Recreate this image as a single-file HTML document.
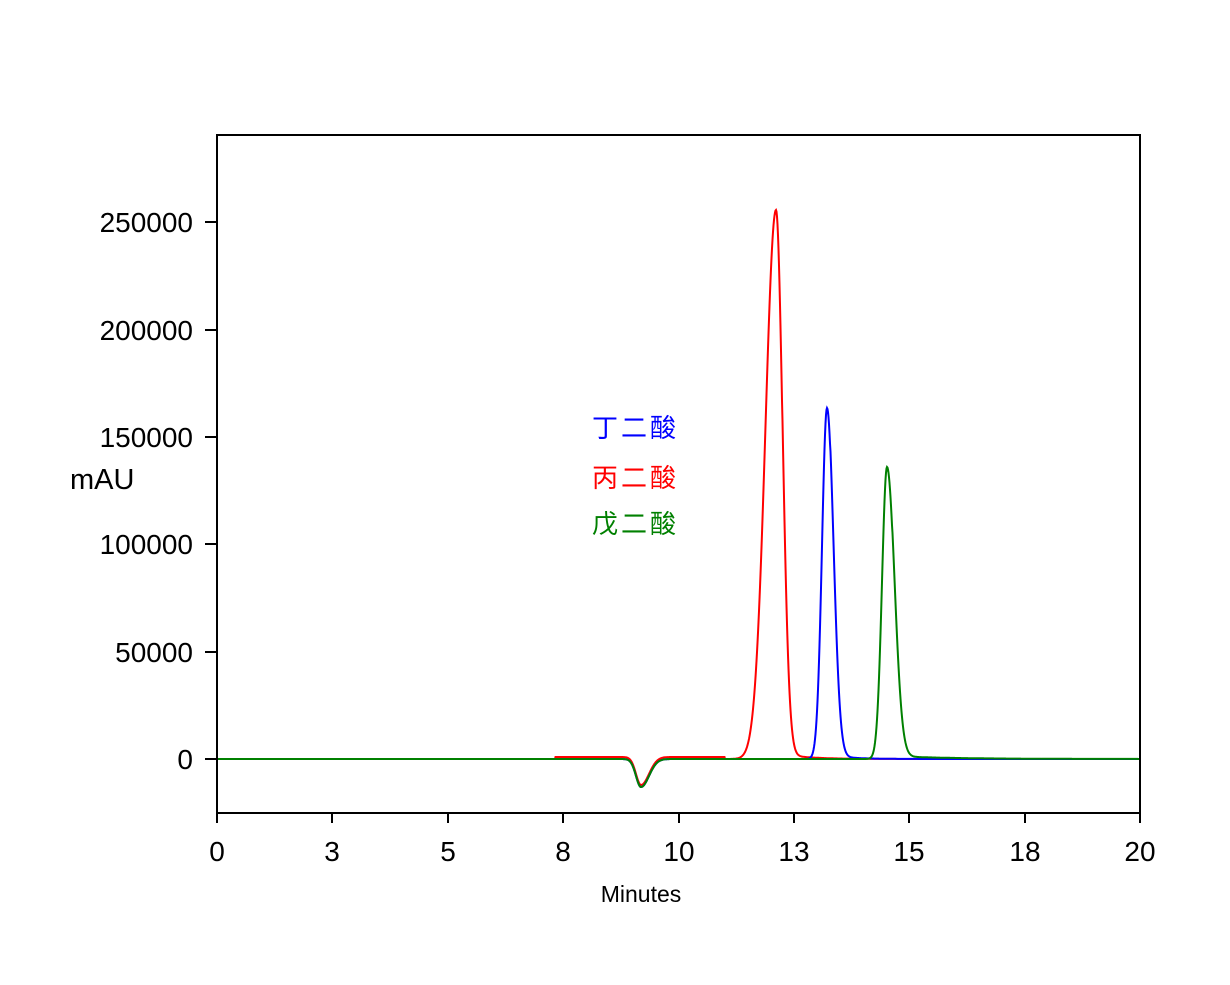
<!DOCTYPE html>
<html><head><meta charset="utf-8"><style>
body{margin:0;background:#fff}
text{font-family:"Liberation Sans",Arial,sans-serif}
</style></head><body>
<svg id="s" width="1230" height="980" xmlns="http://www.w3.org/2000/svg">
<rect x="217" y="135" width="923" height="678" fill="none" stroke="#000" stroke-width="2"/>
<g stroke="#000" stroke-width="2">
<line x1="217" y1="813" x2="217" y2="823"/><line x1="332" y1="813" x2="332" y2="823"/><line x1="448" y1="813" x2="448" y2="823"/><line x1="563" y1="813" x2="563" y2="823"/><line x1="679" y1="813" x2="679" y2="823"/><line x1="794" y1="813" x2="794" y2="823"/><line x1="909" y1="813" x2="909" y2="823"/><line x1="1025" y1="813" x2="1025" y2="823"/><line x1="1140" y1="813" x2="1140" y2="823"/>
<line x1="205" y1="759" x2="217" y2="759"/><line x1="205" y1="652" x2="217" y2="652"/><line x1="205" y1="544" x2="217" y2="544"/><line x1="205" y1="437" x2="217" y2="437"/><line x1="205" y1="330" x2="217" y2="330"/><line x1="205" y1="222" x2="217" y2="222"/>
</g>
<g font-size="28" text-anchor="middle">
<text x="217" y="861">0</text><text x="332" y="861">3</text><text x="448" y="861">5</text><text x="563" y="861">8</text><text x="679" y="861">10</text><text x="794" y="861">13</text><text x="909" y="861">15</text><text x="1025" y="861">18</text><text x="1140" y="861">20</text>
</g>
<g font-size="28" text-anchor="end">
<text x="193" y="769">0</text><text x="193" y="662">50000</text><text x="193" y="554">100000</text><text x="193" y="447">150000</text><text x="193" y="340">200000</text><text x="193" y="232">250000</text>
</g>
<text x="70" y="489" font-size="29">mAU</text>
<text x="641" y="902" font-size="23" text-anchor="middle">Minutes</text>
<g font-size="26" style="font-family:'Liberation Serif','Noto Serif CJK SC',serif">
<text x="592" y="437" fill="#0000ff" letter-spacing="3">丁二酸</text>
<text x="592" y="487" fill="#ff0000" letter-spacing="3">丙二酸</text>
<text x="592" y="533" fill="#008000" letter-spacing="3">戊二酸</text>
</g>
<g id="curves" fill="none" stroke-width="2"></g>
</svg>
<script>
function g(x,c,h,sl,sr){var s=x<c?sl:sr;return h*Math.exp(-0.5*Math.pow((x-c)/s,2));}
function tail(x,c,h,k){return x>c?h*Math.exp(-(x-c)/k):0;}
function dip(x){return -g(x,641,28,5,8);}
var defs=[
 ["#ff0000",function(x){return g(x,776,549,10.5,6.5)+tail(x,782,5,25)+(x>555&&x<725?2:0)+dip(x);}],
 ["#0000ff",function(x){return g(x,827,351,5,6.5)+tail(x,830,4,20)+dip(x);}],
 ["#008000",function(x){return g(x,887,292,5,7.5)+tail(x,892,3,60)+dip(x);}]
];
var G=document.getElementById("curves");
defs.forEach(function(d){
 var p="";for(var x=218;x<=1139;x+=0.5){var y=759-d[1](x);p+=(p?"L":"M")+x.toFixed(1)+" "+y.toFixed(1);}
 var e=document.createElementNS("http://www.w3.org/2000/svg","path");
 e.setAttribute("d",p);e.setAttribute("stroke",d[0]);G.appendChild(e);
});
</script>
</body></html>
